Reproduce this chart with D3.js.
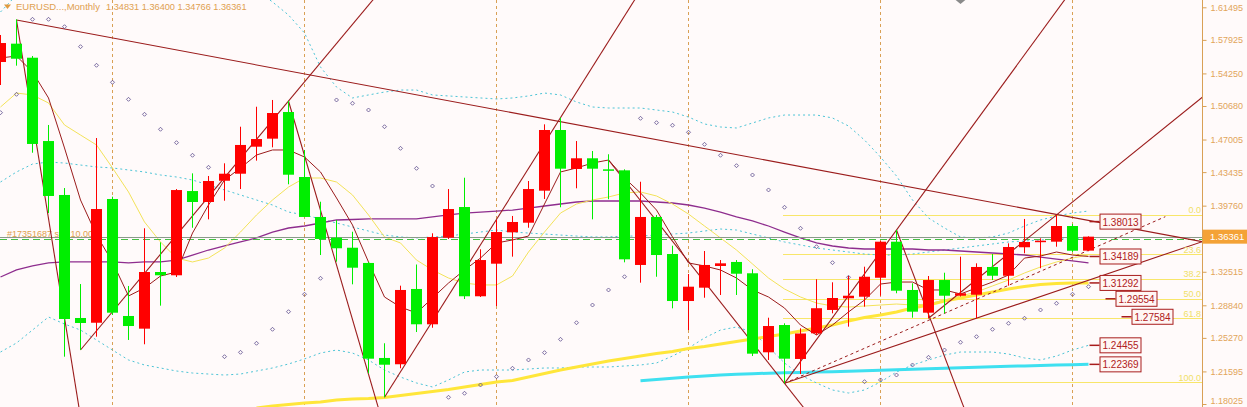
<!DOCTYPE html>
<html><head><meta charset="utf-8">
<script src="https://cdn.jsdelivr.net/npm/d3@7"></script>
<style>html,body{margin:0;padding:0;background:#fffafa;overflow:hidden}</style>
</head><body><svg id="c" width="1247" height="407"></svg>
<script>
// ---------- DATA ----------
const symbolTitle = "EURUSD...,Monthly";
const headerOHLC = ["1.34831", "1.36400", "1.34766", "1.36361"];
const opens  = [1.5550,1.5751,1.5597,1.4684,1.4093,1.2745,1.2693,1.4049,1.2767,1.2628,1.3249,1.3213,1.4136,1.4016,1.4249,1.4326,1.4622,1.4710,1.5002,1.4290,1.3852,1.3625,1.3515,1.3348,1.2307,1.2238,1.3063,1.2676,1.3625,1.3961,1.2983,1.3340,1.3684,1.3789,1.4140,1.4805,1.4378,1.4495,1.4374,1.4363,1.3326,1.3852,1.3446,1.2931,1.3077,1.3315,1.3359,1.3235,1.2369,1.2668,1.2296,1.2577,1.2833,1.2961,1.2978,1.3186,1.3581,1.3052,1.2803,1.3161,1.2989,1.3000,1.3304,1.3208,1.3520,1.3578,1.3581,1.3753,1.34831];
const highs  = [1.5846,1.6018,1.5616,1.4860,1.4169,1.3117,1.4717,1.4074,1.3096,1.3728,1.3574,1.4158,1.4330,1.4301,1.4440,1.4841,1.5060,1.5134,1.5123,1.4586,1.4019,1.3819,1.3690,1.3359,1.2468,1.3099,1.3331,1.3673,1.4158,1.4282,1.3498,1.3819,1.3863,1.4246,1.4867,1.4940,1.4684,1.4575,1.4539,1.4374,1.4238,1.3874,1.3537,1.3227,1.3479,1.3380,1.3380,1.3279,1.2748,1.2687,1.2632,1.3169,1.3136,1.3205,1.3307,1.3590,1.3709,1.3125,1.3205,1.3241,1.3417,1.3344,1.3446,1.3563,1.3830,1.3618,1.3874,1.3775,1.36400];
const lows   = [1.5298,1.5510,1.4556,1.3895,1.2321,1.2394,1.2540,1.2778,1.2504,1.2457,1.2880,1.3194,1.3734,1.3826,1.4030,1.4158,1.4469,1.4615,1.4210,1.3850,1.3435,1.3362,1.3114,1.2139,1.1876,1.2194,1.2591,1.2638,1.3611,1.2953,1.2975,1.2876,1.3417,1.3734,1.4049,1.3958,1.4166,1.3826,1.4046,1.3355,1.3132,1.3197,1.2851,1.2613,1.2967,1.2997,1.2997,1.2328,1.2285,1.2029,1.2131,1.2560,1.2796,1.2650,1.2869,1.2989,1.3016,1.2748,1.2742,1.2796,1.2980,1.2742,1.3161,1.3099,1.3454,1.3290,1.3526,1.3468,1.34766];
const closes = [1.5758,1.5586,1.4652,1.4082,1.2734,1.2690,1.3939,1.2803,1.2657,1.3249,1.3213,1.4147,1.4016,1.4246,1.4326,1.4641,1.4706,1.4991,1.4315,1.3852,1.3611,1.3509,1.3296,1.2299,1.2233,1.3052,1.2676,1.3632,1.3939,1.2983,1.3380,1.3687,1.3797,1.4158,1.4805,1.4381,1.4495,1.4381,1.4359,1.3388,1.3852,1.3435,1.2931,1.3088,1.3326,1.3344,1.3230,1.2354,1.2657,1.2299,1.2575,1.2852,1.2964,1.2989,1.3197,1.3581,1.3044,1.2814,1.3161,1.2989,1.3016,1.3304,1.3208,1.3523,1.3578,1.3592,1.3753,1.3482,1.36361];

const maFast   = [1.5594,1.5616,1.5441,1.5156,1.4608,1.4038,1.3654,1.3359,1.2986,1.3074,1.3205,1.3249,1.3676,1.3983,1.4257,1.4389,1.4531,1.4586,1.4586,1.4509,1.4345,1.4060,1.3764,1.3359,1.2975,1.2865,1.2800,1.2964,1.3128,1.3271,1.3402,1.3567,1.3600,1.3643,1.3994,1.4345,1.4389,1.4443,1.4476,1.4279,1.4115,1.3928,1.3633,1.3348,1.3315,1.3271,1.3183,1.3052,1.2975,1.2854,1.2668,1.2559,1.2668,1.2811,1.2942,1.3117,1.3139,1.3139,1.3052,1.3052,1.3008,1.3074,1.3139,1.3216,1.3402,1.3424,1.3468,1.3435,1.3419];
const maMid    = [1.5057,1.5210,1.5189,1.5101,1.4860,1.4750,1.4641,1.4389,1.4126,1.3797,1.3578,1.3402,1.3359,1.3402,1.3512,1.3687,1.3874,1.4038,1.4180,1.4279,1.4279,1.4235,1.4093,1.3874,1.3633,1.3567,1.3380,1.3271,1.3183,1.3128,1.3107,1.3107,1.3205,1.3468,1.3687,1.3895,1.3994,1.4038,1.4071,1.4115,1.4126,1.4082,1.3994,1.3884,1.3753,1.3622,1.3490,1.3337,1.3183,1.3063,1.2975,1.2909,1.2876,1.2865,1.2876,1.2887,1.2898,1.2887,1.2898,1.2942,1.2986,1.3030,1.3096,1.3161,1.3238,1.3304,1.3359,1.3402,1.3435];
const maLong   = [1.3194,1.3271,1.3315,1.3348,1.3359,1.3359,1.3359,1.3359,1.3348,1.3359,1.3359,1.3380,1.3435,1.3490,1.3534,1.3578,1.3622,1.3687,1.3731,1.3753,1.3786,1.3819,1.3824,1.3830,1.3830,1.3830,1.3830,1.3852,1.3874,1.3895,1.3906,1.3917,1.3928,1.3950,1.3972,1.3994,1.4016,1.4027,1.4027,1.4027,1.4027,1.4016,1.4005,1.3983,1.3950,1.3906,1.3852,1.3808,1.3753,1.3687,1.3622,1.3567,1.3534,1.3512,1.3501,1.3501,1.3501,1.3501,1.3490,1.3490,1.3479,1.3468,1.3457,1.3446,1.3435,1.3413,1.3391,1.3370,1.3348];
const bandUpper = [1.6098,1.6284,1.6449,1.6668,1.6887,1.6997,1.6997,1.6942,1.6887,1.6832,1.6777,1.6723,1.6668,1.6613,1.6558,1.6449,1.6339,1.6208,1.6065,1.5868,1.5495,1.5276,1.5156,1.5189,1.5221,1.5243,1.5243,1.5189,1.5178,1.5167,1.5156,1.5145,1.5156,1.5178,1.5210,1.5189,1.5112,1.5057,1.5046,1.5046,1.5046,1.5024,1.5002,1.4947,1.4871,1.4838,1.4827,1.4882,1.4937,1.4969,1.4969,1.4969,1.4937,1.4849,1.4695,1.4509,1.4301,1.4038,1.3841,1.3731,1.3633,1.3622,1.3633,1.3676,1.3753,1.3819,1.3863,1.3895,1.3917];
const bandMiddle = [1.4235,1.4345,1.4432,1.4454,1.4443,1.4421,1.4400,1.4389,1.4367,1.4345,1.4312,1.4290,1.4257,1.4202,1.4148,1.4093,1.4038,1.3983,1.3906,1.3874,1.3830,1.3786,1.3742,1.3698,1.3654,1.3633,1.3622,1.3633,1.3643,1.3665,1.3687,1.3709,1.3687,1.3676,1.3665,1.3654,1.3643,1.3633,1.3633,1.3643,1.3643,1.3654,1.3665,1.3676,1.3698,1.3720,1.3709,1.3665,1.3622,1.3578,1.3545,1.3512,1.3490,1.3468,1.3446,1.3435,1.3435,1.3446,1.3468,1.3490,1.3512,1.3534,1.3556,1.3578,1.3589,1.3600,1.3611,1.3611,1.3622];
const bandLower = [1.2372,1.2471,1.2613,1.2756,1.2679,1.2613,1.2504,1.2394,1.2285,1.2230,1.2197,1.2164,1.2142,1.2131,1.2120,1.2131,1.2164,1.2197,1.2241,1.2296,1.2361,1.2394,1.2361,1.2285,1.2175,1.2098,1.2033,1.1989,1.2066,1.2153,1.2175,1.2175,1.2175,1.2186,1.2197,1.2197,1.2208,1.2208,1.2208,1.2219,1.2230,1.2252,1.2328,1.2416,1.2526,1.2613,1.2646,1.2591,1.2427,1.2252,1.2120,1.2033,1.1956,1.1923,1.1956,1.2044,1.2153,1.2230,1.2285,1.2339,1.2372,1.2372,1.2372,1.2350,1.2307,1.2285,1.2328,1.2394,1.24455];
const maSlowStart = 16;
const maSlow = [1.1759,1.1781,1.1797,1.1813,1.1824,1.1846,1.1857,1.1863,1.1874,1.1896,1.1918,1.1939,1.1961,1.1989,1.2016,1.2044,1.2060,1.2098,1.2137,1.2175,1.2208,1.2241,1.2274,1.2301,1.2328,1.2356,1.2378,1.2411,1.2433,1.2460,1.2487,1.2515,1.2542,1.2570,1.2602,1.2635,1.2668,1.2712,1.2750,1.2778,1.2811,1.2854,1.2887,1.2931,1.2964,1.2997,1.3030,1.3063,1.3090,1.3112,1.3123,1.3128,1.31292];
const maCyanStart = 40;
const maCyan = [1.2058,1.2071,1.2084,1.2098,1.2109,1.2120,1.2128,1.2134,1.2140,1.2144,1.2148,1.2152,1.2155,1.2161,1.2166,1.2173,1.2177,1.2182,1.2188,1.2195,1.2200,1.2206,1.2211,1.2216,1.2220,1.2224,1.2229,1.2233,1.22369];
const sar = [1.4995,1.5196,1.6018,1.6018,1.5937,1.5718,1.5514,1.5328,1.5141,1.4977,1.4813,1.4666,1.4528,1.4396,1.2321,1.2369,1.2468,1.2621,1.2814,1.3005,1.3180,1.5134,1.5098,1.5024,1.4841,1.4604,1.4385,1.4191,1.1876,1.1920,1.2011,1.2102,1.2194,1.2285,1.2365,1.2511,1.2693,1.2887,1.3052,1.3197,1.4933,1.4885,1.4857,1.4780,1.4648,1.4528,1.4414,1.4312,1.4148,1.3958,1.3728,1.3526,1.3351,1.3191,1.2047,1.2066,1.2120,1.2230,1.2314,1.2394,1.2479,1.2540,1.2621,1.2687,1.2742,1.2833,1.2906,1.3005,1.3088];

// trend lines: [fromIndex, fromPrice, toIndex, toPrice]
const trendRays = [
  [1, 1.6010, 75.1, 1.3581],
  [1, 1.6010, 4.9, 1.1770],
  [5, 1.2394, 18, 1.5123],
  [18, 1.5123, 23.6, 1.1770],
  [24, 1.1876, 35, 1.4940],
  [38, 1.4476, 49, 1.2029],
  [49, 1.2029, 56, 1.3709],
  [56, 1.3709, 60.2, 1.1770],
  [58, 1.2742, 66, 1.3874],
  [49, 1.2029, 75.1, 1.3581]
];
const dottedSegment = [49, 1.2029, 72.8, 1.3855];

const fibHigh = 1.3874, fibLow = 1.2040, fibStartIndex = 49;
const fibLevels = [0, 23.6, 38.2, 50.0, 61.8, 100.0];
const fibLabels = ["0.0", "23.6", "38.2", "50.0", "61.8", "100.0"];

const separatorIndex = [7, 19, 31, 43, 55, 67];
const axisTicks = [1.61495,1.57925,1.54250,1.50680,1.47005,1.43435,1.39760,1.32515,1.28840,1.25270,1.21595,1.18025];
const lastPrice = 1.36361;
const orderPrice = 1.3614;
const orderText = "#17351687 sell 10.00";
const labelValues = [1.38013, 1.34189, 1.31292, 1.29554, 1.27584, 1.24455, 1.22369];
const labelBarShift = [0, 0, 0, 1, 2, 0, 0];
const markerIndex = 60, markerPrice = 1.6240;

// ---------- CHART ----------
const svg = d3.select("#c");
const PR = 1202, PB = 407;
const FONT = "Liberation Sans, Arial, sans-serif";
const x = d3.scaleLinear().domain([0, 75.09375]).range([0.5, PR]);
const y = d3.scaleLinear().domain([1.18025, 1.61495]).range([404, 7.3]);

svg.append("rect").attr("width", 1247).attr("height", 407).attr("fill", "#fffafa");
svg.append("defs").append("clipPath").attr("id", "clip")
  .append("rect").attr("x", 0).attr("y", 0).attr("width", PR).attr("height", PB);
const g = svg.append("g").attr("clip-path", "url(#clip)");

// period separators
g.selectAll(".sep").data(separatorIndex).join("line")
  .attr("x1", d => x(d)).attr("x2", d => x(d)).attr("y1", 0).attr("y2", PB)
  .attr("stroke", "#d9a055").attr("stroke-dasharray", "3,3").attr("stroke-width", 1);

// fibonacci
const fibPrice = l => fibHigh - l / 100 * (fibHigh - fibLow);
g.selectAll(".fib").data(fibLevels).join("line")
  .attr("x1", x(fibStartIndex) - 1.5).attr("x2", PR)
  .attr("y1", d => Math.round(y(fibPrice(d))) + 0.5).attr("y2", d => Math.round(y(fibPrice(d))) + 0.5)
  .attr("stroke", "#f8e66a").attr("stroke-width", 1);

const line = d3.line().x(d => x(d[0])).y(d => y(d[1]));
const seq = (arr, start = 0) => arr.map((v, i) => [i + start, v]);

function path(data, color, width, dash) {
  const p = g.append("path").attr("d", line(data)).attr("fill", "none")
    .attr("stroke", color).attr("stroke-width", width);
  if (dash) p.attr("stroke-dasharray", dash);
  return p;
}

// bands
path(seq(bandUpper), "#4cc4d6", 1, "2,3");
path(seq(bandMiddle), "#4cc4d6", 1, "2,3");
path(seq(bandLower), "#4cc4d6", 1, "2,3");
// moving averages
path(seq(maSlow, maSlowStart), "#ffe63a", 3);
path(seq(maCyan, maCyanStart), "#3fe0f0", 3);
path(seq(maLong), "#8e2d8e", 1.3);
path(seq(maMid), "#f3e35a", 1);

// bid line & order line
g.append("line").attr("x1", 0).attr("x2", PR)
  .attr("y1", Math.round(y(lastPrice)) + 0.5).attr("y2", Math.round(y(lastPrice)) + 0.5)
  .attr("stroke", "#8a9a8a").attr("stroke-width", 1);
g.append("line").attr("x1", 0).attr("x2", PR)
  .attr("y1", Math.round(y(orderPrice)) + 0.5).attr("y2", Math.round(y(orderPrice)) + 0.5)
  .attr("stroke", "#44c044").attr("stroke-width", 1.2).attr("stroke-dasharray", "7,4");
g.append("text").attr("x", 7).attr("y", Math.round(y(orderPrice)) - 2.5)
  .attr("font-family", FONT).attr("font-size", 9)
  .attr("fill", "#e0a050").text(orderText);

// fast MA (dark red)
path(seq(maFast), "#9b1c1c", 1);

// trend rays
trendRays.forEach(r => {
  const x1 = x(r[0]), y1 = y(r[1]), x2 = x(r[2]), y2 = y(r[3]);
  const t = 30;
  g.append("line").attr("x1", x1).attr("y1", y1)
    .attr("x2", x1 + (x2 - x1) * t).attr("y2", y1 + (y2 - y1) * t)
    .attr("stroke", "#9b1c1c").attr("stroke-width", 1.1);
});
g.append("line").attr("x1", x(dottedSegment[0])).attr("y1", y(dottedSegment[1]))
  .attr("x2", x(dottedSegment[2])).attr("y2", y(dottedSegment[3]))
  .attr("stroke", "#9b1c1c").attr("stroke-width", 1).attr("stroke-dasharray", "3,3");

// SAR dots
g.selectAll(".sar").data(sar).join("path")
  .attr("d", "M0,-2L2,0L0,2L-2,0Z")
  .attr("transform", (d, i) => `translate(${x(i)},${y(d)})`)
  .attr("fill", "none").attr("stroke", "#5a4a8c").attr("stroke-width", 0.8);

// candles
const idx = d3.range(opens.length);
const up = i => closes[i] >= opens[i];
const cg = g.append("g");
cg.selectAll(".wick").data(idx).join("line")
  .attr("x1", i => x(i)).attr("x2", i => x(i))
  .attr("y1", i => y(highs[i])).attr("y2", i => y(lows[i]))
  .attr("stroke", i => up(i) ? "#ff0000" : "#00ee00").attr("stroke-width", 1);
cg.selectAll(".body").data(idx).join("rect")
  .attr("x", i => x(i) - 5.5).attr("width", 11)
  .attr("y", i => y(Math.max(opens[i], closes[i])))
  .attr("height", i => Math.max(1.5, Math.abs(y(opens[i]) - y(closes[i]))))
  .attr("fill", i => up(i) ? "#ff0000" : "#00ee00");

// top marker
g.append("path").attr("d", "M0,-5L6,0L0,5L-6,0Z")
  .attr("transform", `translate(${x(markerIndex)},${y(markerPrice)})`).attr("fill", "#8a8a8a");

// fib labels
g.selectAll(".fibt").data(fibLevels).join("text")
  .attr("x", PR - 1).attr("y", d => y(fibPrice(d)) - 1.5)
  .attr("text-anchor", "end").attr("font-family", FONT)
  .attr("font-size", 9).attr("fill", "#f0e068").text((d, i) => fibLabels[i]);

// price labels
labelValues.forEach((v, i) => {
  const px0 = x(68) + 1 + labelBarShift[i] * 16;
  const yy = y(v);
  g.append("line").attr("x1", px0).attr("x2", px0 + 10).attr("y1", yy).attr("y2", yy)
    .attr("stroke", "#a81c1c").attr("stroke-width", 1.5);
  g.append("rect").attr("x", px0 + 10.5).attr("y", yy - 7.5).attr("width", 41).attr("height", 15)
    .attr("fill", "#fff6f4").attr("stroke", "#a81c1c").attr("stroke-width", 1);
  g.append("text").attr("x", px0 + 13).attr("y", yy + 4)
    .attr("font-family", FONT).attr("font-size", 10)
    .attr("fill", "#b02020").text(d3.format(".5f")(v));
});

// right axis
const axis = d3.axisRight(y).tickValues(axisTicks).tickFormat(d3.format(".5f")).tickSize(4).tickPadding(4);
const ag = svg.append("g").attr("transform", `translate(${PR + 0.5},0)`).call(axis);
ag.select(".domain").attr("stroke", "#d9a055").attr("d", `M0,0V${PB}`);
ag.selectAll(".tick line").attr("stroke", "#d9a055");
ag.selectAll(".tick text").attr("fill", "#e2a55a").attr("font-size", 9)
  .attr("font-family", FONT)
  .attr("dy", d => y(d) > 398 ? "-0.05em" : "0.32em");

// last price box
svg.append("rect").attr("x", PR + 1).attr("y", y(lastPrice) - 7).attr("width", 45).attr("height", 14).attr("fill", "#f4a236");
svg.append("text").attr("x", PR + 8).attr("y", y(lastPrice) + 3.5)
  .attr("font-family", FONT).attr("font-size", 9.5)
  .attr("fill", "#ffffff").text(d3.format(".5f")(lastPrice));

// header
svg.append("path").attr("d", "M4,4.5L11,4.5L7.5,9Z").attr("fill", "#e09a40");
svg.append("text").attr("x", 16).attr("y", 10)
  .attr("font-family", FONT).attr("font-size", 9.5)
  .attr("fill", "#e0a050").text(symbolTitle);
svg.append("text").attr("x", 106).attr("y", 10)
  .attr("font-family", FONT).attr("font-size", 9.2)
  .attr("fill", "#e0a050").text(headerOHLC.join(" "));
</script>
</body></html>
